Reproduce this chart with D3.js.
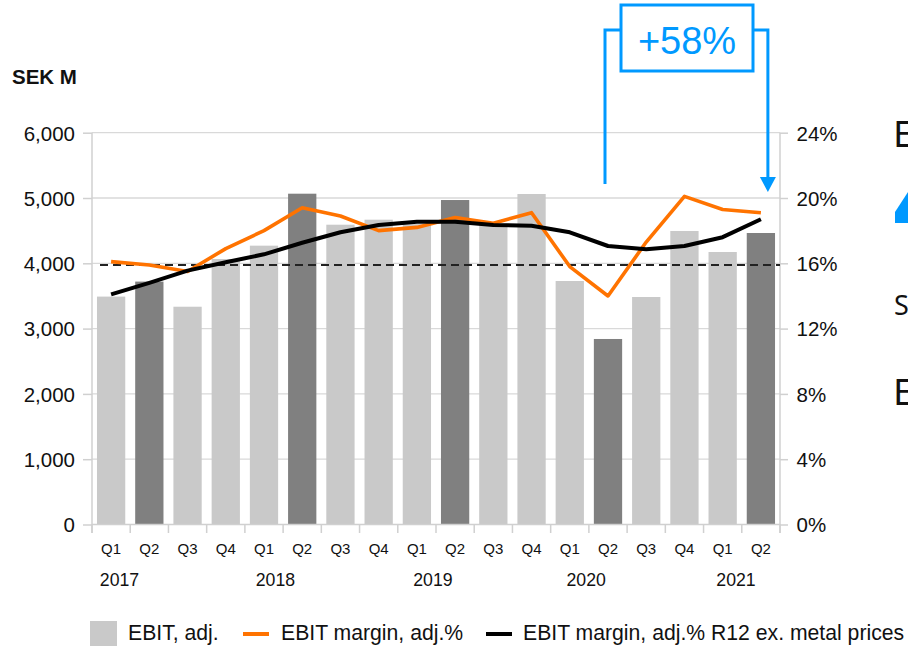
<!DOCTYPE html>
<html><head><meta charset="utf-8">
<script src="https://cdn.jsdelivr.net/npm/d3@7"></script>
<style>body{margin:0;background:#fff;overflow:hidden}svg{display:block}</style>
</head><body>
<svg id="c" width="908" height="646"></svg>
<script>
const quarters = ["Q1","Q2","Q3","Q4","Q1","Q2","Q3","Q4","Q1","Q2","Q3","Q4","Q1","Q2","Q3","Q4","Q1","Q2"];
const years = ["2017","2018","2019","2020","2021"];
const ebitAdj = [3490,3720,3335,4066,4270,5066,4591,4668,4600,4969,4610,5061,3729,2841,3484,4495,4173,4464];
const highlight = [false,true,false,false,false,true,false,false,false,true,false,false,false,true,false,false,false,true];
const marginAdj = [16.1,15.9,15.5,16.9,18.0,19.4,18.9,18.0,18.2,18.8,18.45,19.1,15.8,14.0,17.3,20.1,19.3,19.1];
const marginR12 = [14.1,14.8,15.55,16.06,16.55,17.26,17.9,18.35,18.55,18.55,18.35,18.3,17.9,17.06,16.86,17.06,17.6,18.7];
const leftTicks = [0,1000,2000,3000,4000,5000,6000];
const rightTicks = [0,4,8,12,16,20,24];
const targetLine = 15.9;
const annotationText = "+58%";
const legendLabels = ["EBIT, adj.","EBIT margin, adj.%","EBIT margin, adj.% R12 ex. metal prices"];

const svg = d3.select("#c");
const L = 92, R = 780, T = 132.7, B = 524.5;
const ids = quarters.map((q,i)=>i);
const x = d3.scaleBand().domain(ids).range([L,R]).paddingInner(0.26).paddingOuter(0.13);
const yL = d3.scaleLinear().domain([0,6000]).range([B,T]);
const yR = d3.scaleLinear().domain([0,24]).range([B,T]);
const step = x.step();
const cx = i => x(i) + x.bandwidth()/2;
const font = "Liberation Sans, Arial, sans-serif";
const gridC = "#d9d9d9";

// gridlines
svg.append("g").selectAll("line").data(leftTicks.slice(1)).join("line")
  .attr("x1",L).attr("x2",R).attr("y1",d=>yL(d)).attr("y2",d=>yL(d))
  .attr("stroke",gridC).attr("stroke-width",1.3);

// bars
svg.append("g").selectAll("rect").data(ebitAdj).join("rect")
  .attr("x",(d,i)=>x(i)).attr("width",x.bandwidth())
  .attr("y",d=>yL(d)).attr("height",d=>B-yL(d))
  .attr("fill",(d,i)=>highlight[i]?"#808080":"#c9c9c9");

// axes lines
const axC = "#d0d0d0";
svg.append("line").attr("x1",L).attr("x2",L).attr("y1",T).attr("y2",533).attr("stroke",axC).attr("stroke-width",1.5);
svg.append("line").attr("x1",R).attr("x2",R).attr("y1",T).attr("y2",533).attr("stroke",axC).attr("stroke-width",1.5);
svg.append("line").attr("x1",L).attr("x2",R).attr("y1",B).attr("y2",B).attr("stroke",axC).attr("stroke-width",1.5);

// left axis
const gl = svg.append("g").attr("transform",`translate(${L},0)`)
  .call(d3.axisLeft(yL).tickValues(leftTicks).tickSize(9).tickFormat(d3.format(",")));
gl.select(".domain").remove();
gl.selectAll(".tick line").attr("stroke",axC).attr("stroke-width",1.5);
gl.selectAll(".tick text").attr("font-family",font).attr("font-size",20.5).attr("fill","#111").attr("x",-17).attr("dy","0.36em");

// right axis
const gr = svg.append("g").attr("transform",`translate(${R},0)`)
  .call(d3.axisRight(yR).tickValues(rightTicks).tickSize(8).tickFormat(d=>d+"%"));
gr.select(".domain").remove();
gr.selectAll(".tick line").attr("stroke",axC).attr("stroke-width",1.5);
gr.selectAll(".tick text").attr("font-family",font).attr("font-size",20.5).attr("fill","#111").attr("x",16.5).attr("dy","0.36em");

// x category ticks
svg.append("g").selectAll("line").data(d3.range(quarters.length+1)).join("line")
  .attr("x1",d=>L+d*step).attr("x2",d=>L+d*step).attr("y1",B).attr("y2",533)
  .attr("stroke",axC).attr("stroke-width",1.5);
svg.append("g").selectAll("text").data(quarters).join("text")
  .attr("x",(d,i)=>cx(i)).attr("y",553.5).attr("text-anchor","middle")
  .attr("font-family",font).attr("font-size",15).attr("fill","#111").text(d=>d);
const yearOff = [0.72,0.8,0.92,0.93,0.85];
svg.append("g").selectAll("text").data(years).join("text")
  .attr("x",(d,i)=>L+(i*4+yearOff[i])*step).attr("y",586).attr("text-anchor","middle")
  .attr("font-family",font).attr("font-size",17.7).attr("fill","#111").text(d=>d);

// dashed target line
svg.append("line").attr("x1",L+8).attr("x2",R).attr("y1",yR(targetLine)).attr("y2",yR(targetLine))
  .attr("stroke","#222").attr("stroke-width",2).attr("stroke-dasharray","8,5");

// lines
const line = d3.line().x((d,i)=>cx(i)).y(d=>yR(d));
svg.append("path").datum(marginAdj).attr("d",line).attr("fill","none")
  .attr("stroke","#ff7300").attr("stroke-width",3.6).attr("stroke-linejoin","round");
svg.append("path").datum(marginR12).attr("d",line).attr("fill","none")
  .attr("stroke","#000").attr("stroke-width",4).attr("stroke-linejoin","round");

// SEK M
svg.append("text").attr("x",12).attr("y",84).attr("font-family",font).attr("font-weight","bold")
  .attr("font-size",20.5).attr("fill","#111").text("SEK M");

// annotation
const blue = "#0099ff";
const xl = cx(13)-3, xr = cx(17)+7;
const yTop = 30;
const boxL = 621, boxR = 753, boxT = 5, boxB = 71;
const ann = svg.append("g").attr("fill","none").attr("stroke",blue).attr("stroke-width",3);
ann.append("rect").attr("x",boxL).attr("y",boxT).attr("width",boxR-boxL).attr("height",boxB-boxT);
ann.append("path").attr("d",`M${xl},184 V${yTop} H${boxL}`).attr("stroke-linejoin","miter");
ann.append("path").attr("d",`M${boxR},${yTop} H${xr} V178`).attr("stroke-linejoin","miter");
svg.append("path").attr("d",`M${xr-8},177 L${xr+8},177 L${xr},192 Z`).attr("fill",blue);
svg.append("text").attr("x",(boxL+boxR)/2).attr("y",53.5).attr("text-anchor","middle")
  .attr("font-family",font).attr("font-size",38).attr("fill",blue).text(annotationText);

// legend
const lg = svg.append("g").attr("font-family",font).attr("font-size",21.2).attr("fill","#111");
lg.append("rect").attr("x",90).attr("y",621).attr("width",27).attr("height",27).attr("fill","#c9c9c9");
lg.append("text").attr("x",128).attr("y",640).text(legendLabels[0]);
lg.append("line").attr("x1",243).attr("x2",269).attr("y1",634).attr("y2",634).attr("stroke","#ff7300").attr("stroke-width",4);
lg.append("text").attr("x",281).attr("y",640).text(legendLabels[1]);
lg.append("line").attr("x1",486).attr("x2",512).attr("y1",634).attr("y2",634).attr("stroke","#000").attr("stroke-width",4);
lg.append("text").attr("x",523).attr("y",640).text(legendLabels[2]);

// cut-off neighbouring slide content at right edge (as in the reference)
const side = svg.append("g").attr("font-family","Noto Sans, sans-serif").attr("fill","#111");
side.append("text").attr("x",893).attr("y",147).attr("font-size",37).text("E");
side.append("path").attr("d","M908,192 L908,223 L895,223 L895,212 Z").attr("fill",blue);
side.append("text").attr("x",894).attr("y",315).attr("font-size",27).text("S");
side.append("text").attr("x",893).attr("y",405).attr("font-size",37).text("E");
</script>
</body></html>
